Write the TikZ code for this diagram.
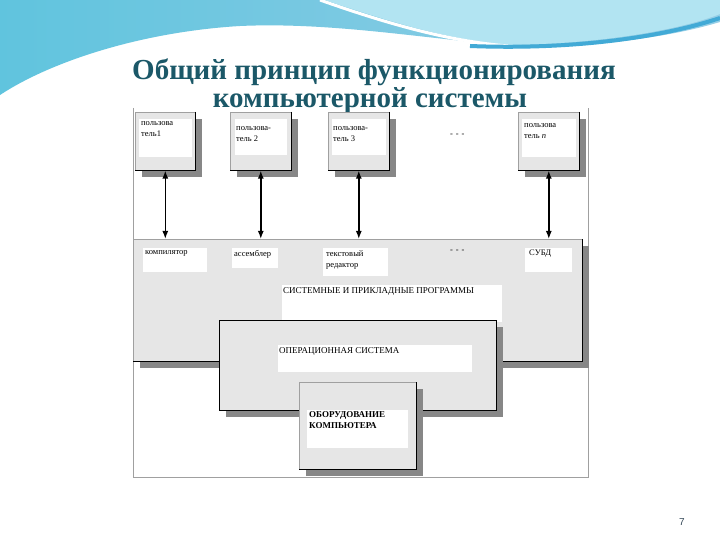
\documentclass[tikz,border=0pt]{standalone}
\usepackage{fontspec}
\setmainfont{Liberation Serif}
\setsansfont{Liberation Sans}
\usetikzlibrary{arrows.meta,shadows}
\definecolor{titlecol}{RGB}{27,88,104}
\definecolor{panelgray}{RGB}{230,230,230}
\definecolor{shadowgray}{RGB}{135,135,135}
\definecolor{framegray}{RGB}{160,160,160}
\definecolor{skyA}{RGB}{96,196,222}
\definecolor{skyB}{RGB}{150,206,230}
\definecolor{skyC}{RGB}{178,228,242}
\definecolor{skyD}{RGB}{66,170,214}
\definecolor{pagecol}{RGB}{50,70,85}
\tikzset{
  panel/.style={rectangle, fill=panelgray, draw=framegray, line width=0.6pt, inner sep=0pt, anchor=north west,
    drop shadow={shadow xshift=7pt, shadow yshift=-7pt, fill=shadowgray, opacity=1}},
  edge/.style={draw=black, line width=1pt},
  txt/.style={anchor=north west, align=left, inner sep=0pt, font=\fontsize{8.5}{11}\selectfont},
  capstxt/.style={anchor=north west, align=left, inner sep=0pt, font=\fontsize{9}{11}\selectfont},
  title/.style={font=\bfseries\fontsize{29}{31}\selectfont, text=titlecol, inner sep=0pt},
  link/.style={line width=1.4pt, {Latex[length=8pt,width=6pt]}-{Latex[length=8pt,width=6pt]}}
}
\begin{document}
\begin{tikzpicture}[x=1pt,y=-1pt]
\useasboundingbox (0,0) rectangle (720,540);
\fill[white] (0,0) rectangle (720,540);
% background waves
\shade[left color=skyA, right color=skyB] (0,0) -- (720,0) -- (720,22)
  .. controls (660,40) and (580,48) .. (505,45)
  .. controls (420,38) and (330,22) .. (240,26)
  .. controls (140,32) and (50,62) .. (0,95) -- cycle;
\fill[skyC] (325,0) .. controls (390,22) and (450,40) .. (508,45)
  .. controls (600,44) and (680,30) .. (720,14) -- (720,0) -- cycle;
\draw[white, line width=3pt] (320,0) .. controls (388,24) and (448,41) .. (508,46);
\draw[skyD, line width=4pt] (470,46) .. controls (570,50) and (660,38) .. (720,18);
% title
\node[title] (t1) at (374,72) {Общий принцип функционирования};
\node[title] (t2) at (370,101) {компьютерной системы};
% frame
\draw[framegray, line width=0.7pt] (133,108) -- (133,477) -- (588,477) -- (588,108);
% user boxes
\node[panel, minimum width=60pt, minimum height=58pt] (u1) at (135,112) {};
\node[panel, minimum width=61pt, minimum height=58pt] (u2) at (230,112) {};
\node[panel, minimum width=61pt, minimum height=58pt] (u3) at (328,112) {};
\node[panel, minimum width=61pt, minimum height=58pt] (un) at (518,112) {};
\foreach \b in {u1,u2,u3,un}{\draw[edge] (\b.north east) -- (\b.south east) -- (\b.south west);}
\fill[white] (139,119) rectangle (192,157);
\fill[white] (235,119) rectangle (287,155);
\fill[white] (332,119) rectangle (386,155);
\fill[white] (522,119) rectangle (576,157);
\node[txt] (u1t) at (141,121) {пользова\\тель1};
\node[txt] (u2t) at (236,126) {пользова-\\тель 2};
\node[txt] (u3t) at (333,126) {пользова-\\тель 3};
\node[txt] (unt) at (524,123) {пользова\\тель \textit{n}};
\node[txt] (udots) at (450,134) {-\,\,-\,\,-};
% programs block
\node[panel, minimum width=449pt, minimum height=122pt] (prog) at (133,239) {};
\draw[edge] (prog.north east) -- (prog.south east) -- (prog.south west);
\fill[white] (143,248) rectangle (207,272);
\fill[white] (232,248) rectangle (278,268);
\fill[white] (323,248) rectangle (388,276);
\fill[white] (525,248) rectangle (572,272);
\fill[white] (282,285) rectangle (502,322);
\node[txt] (comp) at (145,250) {компилятор};
\node[txt] (asm) at (234,250) {ассемблер};
\node[txt] (ed) at (326,250) {текстовый\\редактор};
\node[txt] (pdots) at (450,250) {-\,\,-\,\,-};
\node[txt] (dbms) at (529,250) {СУБД};
\node[capstxt] (sys) at (283,287) {СИСТЕМНЫЕ И ПРИКЛАДНЫЕ ПРОГРАММЫ};
% arrows
\foreach \b in {u1,u2,u3,un}{\draw[link] (\b.south) -- (\b.south |- prog.north);}
% OS block
\node[panel, minimum width=277pt, minimum height=90pt] (os) at (219,320) {};
\draw[edge] (os.north west) rectangle (os.south east);
\fill[white] (278,345) rectangle (472,372);
\node[capstxt] (ost) at (279,347) {ОПЕРАЦИОННАЯ СИСТЕМА};
% hardware block
\node[panel, minimum width=117pt, minimum height=87pt] (hw) at (299,382) {};
\draw[edge] (hw.north east) -- (hw.south east) -- (hw.south west);
\fill[white] (307,410) rectangle (408,448);
\node[capstxt, font=\bfseries\fontsize{9}{11}\selectfont] (hwt) at (309,411) {ОБОРУДОВАНИЕ\\КОМПЬЮТЕРА};
% page number
\node[font=\sffamily\fontsize{10}{12}\selectfont, text=pagecol] (pg) at (682,522) {7};
\end{tikzpicture}
\end{document}
